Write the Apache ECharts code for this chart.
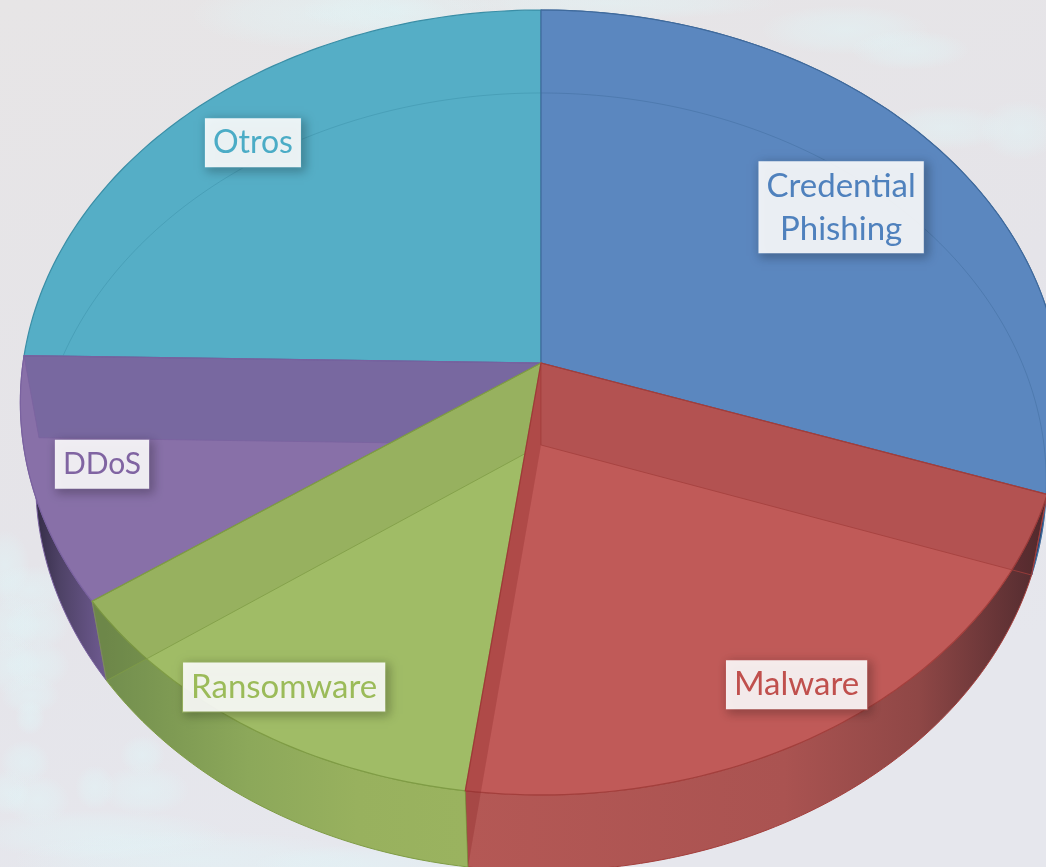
<!DOCTYPE html>
<html>
<head>
<meta charset="utf-8">
<style>
html,body{margin:0;padding:0;width:1046px;height:867px;overflow:hidden;background:#e6e5e8;}
#c{width:1046px;height:867px;}
</style>
<script src="https://cdn.jsdelivr.net/npm/echarts@6/dist/echarts.min.js"></script>
</head>
<body>
<div id="c"></div>
<script>
const categories = ['Credential\nPhishing', 'Malware', 'Ransomware', 'DDoS', 'Otros'];
const shareValues = [30.3, 21.8, 13.1, 10.1, 24.7];
const labelRadius = [0.734, 0.89, 0.895, 0.864, 0.842];
const labelTurn = [0.8, 0.9, -0.4, 0, 0];
const labelFontSize = [33, 33, 33, 30, 32];
const faceColors = ['#5b87bf', '#c05a58', '#a0bc66', '#8870a8', '#55aec6'];
const textColors = ['#4f81bd', '#c0504d', '#9bbb59', '#8064a2', '#4bacc6'];
const edgeColors = ['#3f6a9c', '#a33f3c', '#7f9c45', '#7a62a0', '#3a8ea6'];

const wallFill = [null, 'rgba(90,30,40,0.13)', 'rgba(60,70,20,0.085)', 'rgba(40,60,120,0.16)', null];
const stripFill = 'rgba(140,40,40,0.32)';

const topFace = {cx: 541, cy: 363, A: 388.5, k: 0.1006, B: 518};
const floorFace = {cx: 541, cy: 445, A: 385.5, k: 0.0951, B: 503};

// soft pale smudges of the blurred backdrop: x, y, w, h
const backdropSmudges = [
  [190, -20, 260, 70], [300, -15, 200, 50], [440, -14, 340, 34], [760, 5, 170, 50], [850, 30, 120, 40],
  [880, 105, 130, 45], [980, 100, 80, 60],
  [-20, 530, 50, 70], [-15, 565, 90, 50], [-20, 595, 60, 60], [5, 600, 65, 50], [-20, 635, 60, 60], [5, 640, 65, 50], [0, 675, 60, 40], [15, 700, 30, 35],
  [0, 740, 50, 45], [120, 735, 45, 40], [-15, 770, 45, 45], [5, 775, 65, 50], [75, 765, 40, 45], [100, 765, 90, 50],
  [-30, 810, 260, 50], [10, 830, 360, 60], [250, 845, 220, 40]
];

const total = shareValues.reduce((a, b) => a + b, 0);
function project(f, deg, r) {
  const t = deg * Math.PI / 180, u = r * Math.sin(t), v = r * Math.cos(t), d = 1 + f.k * v;
  return [f.cx + f.B * u / d, f.cy - f.A * v / d];
}
function arc(f, a, b) {
  const pts = [], n = Math.max(2, Math.ceil(Math.abs(b - a)));
  for (let i = 0; i <= n; i++) pts.push(project(f, a + (b - a) * i / n, 1));
  return pts;
}
const angleAt = i => shareValues.slice(0, i).reduce((a, b) => a + b, 0) / total * 360;

const wallGradient = [
  [[0, '#1c3456'], [1, '#2a4a78']],
  [[0, '#b45855'], [0.55, '#aa5351'], [0.78, '#8f4746'], [1, '#4f2a2e']],
  [[0, '#728e4e'], [0.15, '#7c9852'], [0.4, '#8ca85a'], [0.7, '#98b15e'], [1, '#9ab35f']],
  [[0, '#2f2840'], [0.4, '#4e4266'], [1, '#6e5a90']],
  null
];
const wallSpan = [[1000, 1046], [465, 1046], [105, 465], [30, 105], [0, 1]];
const topZ = [2, 7, 5, 3, 1];

function renderSlice(params, api) {
  const i = params.dataIndex;
  const a = angleAt(i), b = a + api.value(0) / total * 360;
  const kids = [];
  const topApex = [topFace.cx, topFace.cy], floorApex = [floorFace.cx, floorFace.cy];

  if (wallGradient[i]) {
    const pts = arc(topFace, a, b).concat(arc(floorFace, b, a));
    kids.push({
      type: 'polygon', z2: 0, shape: {points: pts},
      style: {
        fill: {type: 'linear', global: true, x: wallSpan[i][0], y: 0, x2: wallSpan[i][1], y2: 0, colorStops: wallGradient[i].map(s => ({offset: s[0], color: s[1]}))},
        stroke: edgeColors[i], lineWidth: 1
      }
    });
  }
  kids.push({
    type: 'polygon', z2: topZ[i],
    shape: {points: [topApex].concat(arc(topFace, a, b))},
    style: {fill: faceColors[i], stroke: edgeColors[i], lineWidth: 1.2}
  });
  if (i === 0 || i === 4) {
    kids.push({
      type: 'polyline', z2: topZ[i] + 0.5,
      shape: {points: arc(floorFace, a, b)},
      style: {fill: null, stroke: edgeColors[i], opacity: 0.45, lineWidth: 1}
    });
  }
  if (wallFill[i]) {
    const w = i === 1 ? a : b;
    kids.push({
      type: 'polygon', z2: topZ[i] + 1,
      shape: {points: [topApex, project(topFace, w, 1), project(floorFace, w, 1), floorApex]},
      style: {fill: wallFill[i], stroke: edgeColors[i], lineWidth: 0.8}
    });
  }
  if (i === 1) {
    kids.push({
      type: 'polygon', z2: topZ[i] + 1,
      shape: {points: [topApex, project(topFace, b, 1), project(floorFace, b, 1), floorApex]},
      style: {fill: stripFill, stroke: null}
    });
  }
  const mid = (a + b) / 2 + labelTurn[i], p = project(topFace, mid, labelRadius[i]);
  kids.push({
    type: 'text', z2: 30, x: p[0], y: p[1],
    style: {
      text: categories[i], fill: textColors[i],
      font: labelFontSize[i] + 'px Lato, "Open Sans", sans-serif',
      lineHeight: 43, align: 'center', verticalAlign: 'middle',
      backgroundColor: 'rgba(255,255,255,0.89)',
      borderColor: faceColors[i], borderWidth: 1,
      padding: [3, 8, 3, 8],
      shadowBlur: 10, shadowColor: 'rgba(0,0,0,0.28)', shadowOffsetX: 3, shadowOffsetY: 3
    }
  });
  return {type: 'group', children: kids};
}

const chart = echarts.init(document.getElementById('c'), null, {renderer: 'canvas'});
chart.setOption({
  animation: false,
  backgroundColor: {
    type: 'linear', x: 0, y: 0, x2: 0.25, y2: 1,
    colorStops: [{offset: 0, color: '#e7e5e6'}, {offset: 0.6, color: '#e5e4e9'}, {offset: 1, color: '#e6e7ed'}]
  },
  graphic: backdropSmudges.map(s => ({
    type: 'circle', z: -10, silent: true,
    x: s[0] + s[2] / 2, y: s[1] + s[3] / 2, scaleX: s[2] / s[3],
    shape: {cx: 0, cy: 0, r: s[3] / 2},
    style: {fill: {type: 'radial', x: 0.5, y: 0.5, r: 0.5, colorStops: [
      {offset: 0, color: 'rgba(224,248,250,0.42)'}, {offset: 0.6, color: 'rgba(224,248,250,0.25)'}, {offset: 1, color: 'rgba(224,248,250,0)'}
    ]}}
  })),
  series: [{
    type: 'custom',
    coordinateSystem: 'none',
    silent: true,
    z: 5,
    renderItem: renderSlice,
    data: shareValues.map((v, i) => ({name: categories[i], value: [v]}))
  }]
});
</script>
</body>
</html>
